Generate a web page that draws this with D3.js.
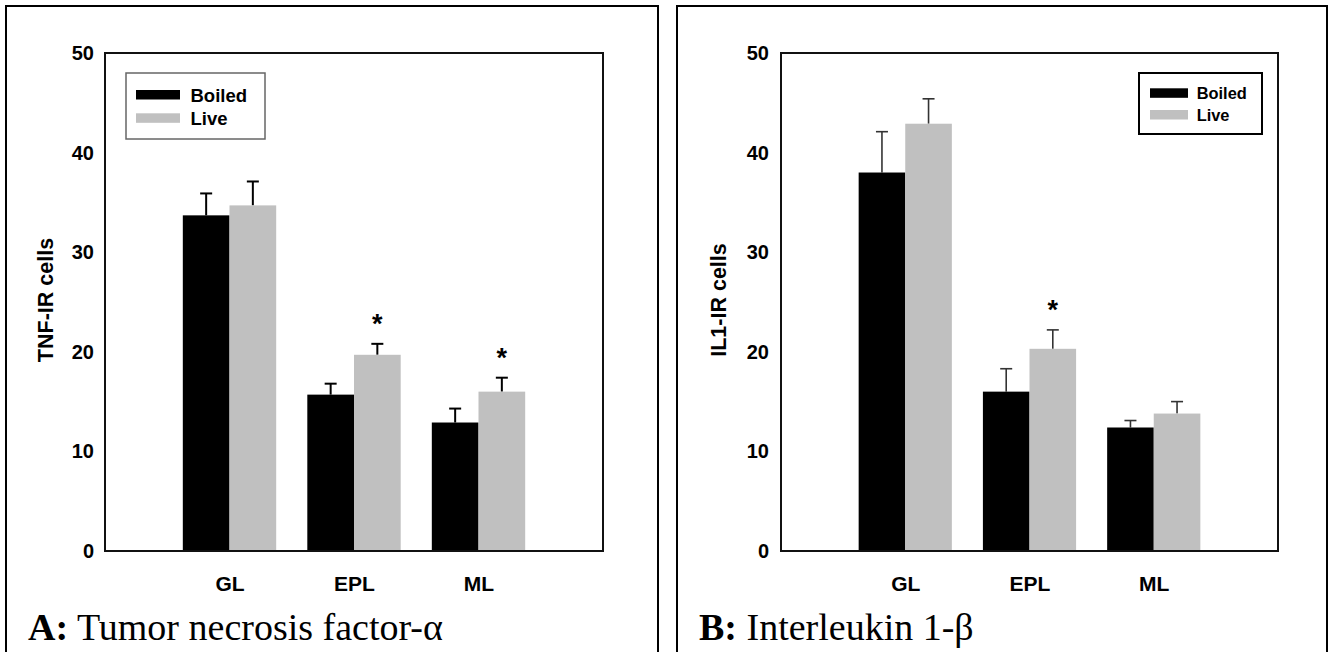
<!DOCTYPE html>
<html>
<head>
<meta charset="utf-8">
<script src="https://cdn.jsdelivr.net/npm/d3@7"></script>
<style>
  body { margin: 0; background: #fff; }
  svg { display: block; }
</style>
</head>
<body>
<div id="chart"></div>
<script>
// chart data
var categories = ["GL", "EPL", "ML"];
var seriesNames = ["Boiled", "Live"];
var yTicks = [0, 10, 20, 30, 40, 50];

var tnfBoiled = [33.7, 15.7, 12.9];
var tnfBoiledErr = [2.2, 1.1, 1.4];
var tnfLive = [34.7, 19.7, 16.0];
var tnfLiveErr = [2.4, 1.1, 1.4];
var tnfSig = [false, true, true];

var il1Boiled = [38.0, 16.0, 12.4];
var il1BoiledErr = [4.1, 2.3, 0.7];
var il1Live = [42.9, 20.3, 13.8];
var il1LiveErr = [2.5, 1.9, 1.2];
var il1Sig = [false, true, false];

var colors = ["#000000", "#c0c0c0"];
var sans = "Liberation Sans, Arial, sans-serif";

var svg = d3.select("#chart").append("svg")
  .attr("width", 1333)
  .attr("height", 652);

function drawPanel(opt) {
  var g = svg.append("g");

  // outer frame of the panel
  g.append("rect")
    .attr("x", opt.frame[0]).attr("y", opt.frame[1])
    .attr("width", opt.frame[2]).attr("height", opt.frame[3])
    .attr("fill", "none").attr("stroke", "#000").attr("stroke-width", 2);

  var x = d3.scalePoint()
    .domain(categories)
    .range([opt.left, opt.right])
    .padding(1);
  var y = d3.scaleLinear()
    .domain([0, 50])
    .range([551, 53]);

  var barW = x.step() * 0.375;

  // y axis labels
  var yAxis = g.append("g")
    .attr("transform", "translate(" + opt.left + ",0)")
    .call(d3.axisLeft(y).tickValues(yTicks).tickSize(0).tickPadding(opt.tickPad));
  yAxis.select(".domain").remove();
  yAxis.selectAll("text")
    .attr("font-family", sans)
    .attr("font-weight", "bold")
    .attr("font-size", 20)
    .attr("fill", "#000");

  // x axis labels
  var xAxis = g.append("g")
    .attr("transform", "translate(0,551)")
    .call(d3.axisBottom(x).tickSize(0).tickPadding(25));
  xAxis.select(".domain").remove();
  xAxis.selectAll("text")
    .attr("font-family", sans)
    .attr("font-weight", "bold")
    .attr("font-size", 21)
    .attr("fill", "#000");

  // y title
  g.append("text")
    .attr("transform", "translate(" + opt.titleX + ",300) rotate(-90)")
    .attr("text-anchor", "middle")
    .attr("font-family", sans)
    .attr("font-weight", "bold")
    .attr("font-size", 21.5)
    .text(opt.yTitle);

  var series = [
    { vals: opt.boiled, errs: opt.boiledErr, off: -barW, color: colors[0] },
    { vals: opt.live, errs: opt.liveErr, off: 0, color: colors[1] }
  ];

  series.forEach(function(s) {
    var rows = categories.map(function(c, i) {
      return { cat: c, v: s.vals[i], e: s.errs[i] };
    });

    // error bars drawn first so the bars sit on top of the stem
    var eg = g.append("g")
      .attr("stroke", opt.errColor)
      .attr("stroke-width", opt.errWidth);
    eg.selectAll(".stem").data(rows).enter().append("line")
      .attr("x1", d => x(d.cat) + s.off + barW / 2)
      .attr("x2", d => x(d.cat) + s.off + barW / 2)
      .attr("y1", d => y(d.v))
      .attr("y2", d => y(d.v + d.e));
    eg.selectAll(".cap").data(rows).enter().append("line")
      .attr("x1", d => x(d.cat) + s.off + barW / 2 - 6)
      .attr("x2", d => x(d.cat) + s.off + barW / 2 + 6)
      .attr("y1", d => y(d.v + d.e))
      .attr("y2", d => y(d.v + d.e));

    g.selectAll(null).data(rows).enter().append("rect")
      .attr("x", d => x(d.cat) + s.off)
      .attr("y", d => y(d.v))
      .attr("width", barW)
      .attr("height", d => y(0) - y(d.v))
      .attr("fill", s.color);
  });

  // significance stars over the Live bars
  var stars = categories.map(function(c, i) {
    return { cat: c, top: opt.live[i] + opt.liveErr[i], sig: opt.sig[i] };
  }).filter(d => d.sig);
  g.selectAll(".star").data(stars).enter().append("text")
    .attr("x", d => x(d.cat) + barW / 2)
    .attr("y", d => y(d.top) - 11)
    .attr("text-anchor", "middle")
    .attr("font-family", sans)
    .attr("font-weight", "bold")
    .attr("font-size", 27)
    .text("*");

  // plot frame
  g.append("rect")
    .attr("x", opt.left).attr("y", y(50))
    .attr("width", opt.right - opt.left).attr("height", y(0) - y(50))
    .attr("fill", "none").attr("stroke", "#111").attr("stroke-width", 2);

  // legend
  var L = opt.legend;
  var lg = g.append("g");
  lg.append("rect")
    .attr("x", L.x).attr("y", L.y).attr("width", L.w).attr("height", L.h)
    .attr("fill", "#fff").attr("stroke", L.stroke).attr("stroke-width", L.sw);
  seriesNames.forEach(function(name, i) {
    lg.append("rect")
      .attr("x", L.x + L.sx).attr("y", L.y + L.sy + i * L.gap)
      .attr("width", L.swW).attr("height", 9.5)
      .attr("fill", colors[i]);
    lg.append("text")
      .attr("x", L.x + L.tx).attr("y", L.y + L.sy + L.base + i * L.gap)
      .attr("font-family", sans)
      .attr("font-weight", "bold")
      .attr("font-size", L.fs)
      .text(name);
  });

  // caption
  var cap = g.append("text")
    .attr("x", opt.frame[0] + 22).attr("y", 640)
    .attr("font-family", "Liberation Serif, Times New Roman, serif")
    .attr("font-size", 38);
  cap.append("tspan").attr("font-weight", "bold").text(opt.capLetter);
  cap.append("tspan").text(" " + opt.capText);
}

drawPanel({
  frame: [6, 6, 652, 660],
  left: 105, right: 603,
  tickPad: 11,
  titleX: 53,
  yTitle: "TNF-IR cells",
  boiled: tnfBoiled, boiledErr: tnfBoiledErr,
  live: tnfLive, liveErr: tnfLiveErr,
  sig: tnfSig,
  errColor: "#000", errWidth: 2,
  legend: { x: 126, y: 73, w: 139, h: 66, stroke: "#666", sw: 1.5,
            sx: 10, sy: 17, swW: 44, gap: 23.3, base: 11.5, tx: 64.5, fs: 18.5 },
  capLetter: "A:", capText: "Tumor necrosis factor-α"
});

drawPanel({
  frame: [677, 6, 650, 660],
  left: 781, right: 1278,
  tickPad: 12,
  titleX: 726,
  yTitle: "IL1-IR cells",
  boiled: il1Boiled, boiledErr: il1BoiledErr,
  live: il1Live, liveErr: il1LiveErr,
  sig: il1Sig,
  errColor: "#333", errWidth: 1.6,
  legend: { x: 1139, y: 73, w: 123, h: 61, stroke: "#000", sw: 2,
            sx: 11, sy: 15.3, swW: 38, gap: 21.7, base: 10.7, tx: 57.7, fs: 16.4 },
  capLetter: "B:", capText: "Interleukin 1-β"
});
</script>
</body>
</html>
